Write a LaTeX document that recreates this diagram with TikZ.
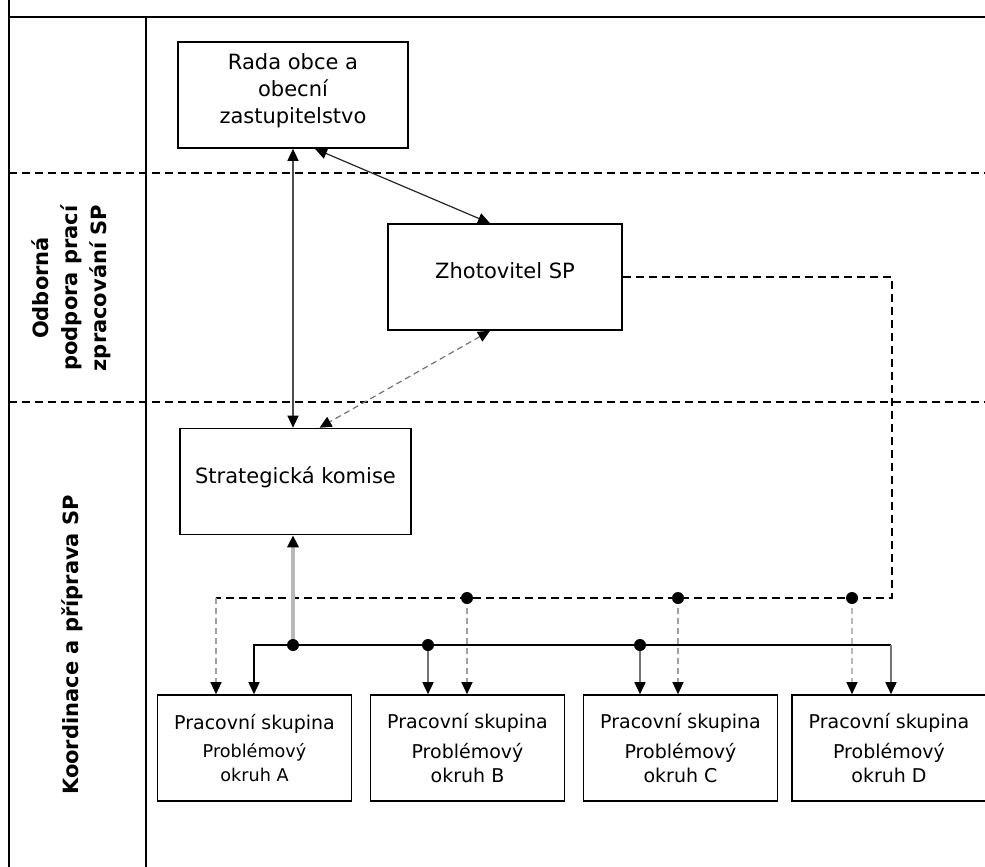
\documentclass[tikz,border=0pt]{standalone}
\usepackage{fontspec}
\setmainfont{DejaVu Sans}
\usetikzlibrary{arrows.meta}

\begin{document}
\begin{tikzpicture}[
    x=0.5pt, y=-0.5pt,
    >={Triangle[length=6pt,width=5.5pt,color=black]},
    every node/.style={font=\fontsize{10.5}{13.5}\selectfont}
  ]

  \tikzset{
    ramec/.style={draw, line width=0.8pt, align=center, minimum height=53pt, text depth=6pt},
    skupina/.style={draw, line width=0.8pt, align=center, minimum width=97pt, minimum height=53pt, inner sep=1pt,
      font=\fontsize{9.5}{12}\selectfont},
    popis/.style={rotate=90, align=center, font=\bfseries\fontsize{10.5}{14.5}\selectfont},
    cara/.style={line width=0.6pt},
    carky/.style={line width=0.6pt, dash pattern=on 4pt off 2.5pt},
    carkyseda/.style={line width=0.6pt, gray!75, dash pattern=on 3pt off 2pt},
    bod/.style={circle, fill=black, inner sep=0pt, minimum size=6pt}
  }

  \useasboundingbox (0,0) rectangle (985,867);

  % ramecek a pasy
  \draw[line width=0.75pt] (9,0) -- (9,867);
  \draw[line width=0.75pt] (9,17) -- (985,17);
  \draw[line width=0.75pt] (146,17) -- (146,867);
  \draw[carky, line width=0.7pt] (9,173) -- (985,173);
  \draw[carky, line width=0.7pt] (9,402) -- (985,402);

  \node[popis] (odborna) at (71,288) {Odborná\\podpora prací\\zpracování SP};
  \node[popis] (koordinace) at (72,645) {Koordinace a příprava SP};

  % hlavni bloky
  \node[ramec, minimum width=115pt] (rada) at (293,95) {Rada obce a\\obecní\\zastupitelstvo};
  \node[ramec, minimum width=117pt] (zhot) at (505,277) {Zhotovitel SP};
  \node[ramec, minimum width=115.5pt] (komise) at (295.5,481.5) {Strategická komise};

  % pracovni skupiny
  \node[skupina] (skA) at (254.5,748) {Pracovní skupina\\[2pt]{\fontsize{8.8}{11}\selectfont Problémový}\\{\fontsize{8.8}{11}\selectfont okruh A}};
  \node[skupina] (skB) at (467.5,748) {Pracovní skupina\\[3pt]Problémový\\okruh B};
  \node[skupina] (skC) at (680.5,748) {Pracovní skupina\\[3pt]Problémový\\okruh C};
  \node[skupina] (skD) at (889,748) {Pracovní skupina\\[3pt]Problémový\\okruh D};

  % spoje nahore
  \draw[cara, black!70, <->] (rada.south) -- (rada.south |- komise.north);
  \draw[cara, black!85, <->] ([xshift=11pt]rada.south) -- ([xshift=-7.5pt]zhot.north);
  \draw[carkyseda, black!55, <->] ([xshift=-7.5pt]zhot.south) -- ([xshift=12pt]komise.north);

  % carkovana sbernice
  \coordinate (dL) at (216,598);
  \coordinate (dR) at (892,598);
  \coordinate (dB) at (467,598);
  \coordinate (dC) at (678,598);
  \coordinate (dD) at (852,598);
  \draw[carky] (zhot.east) -| (dR) -- (dL);
  \draw[carkyseda, ->] (dL) -- (dL |- skA.north);
  \draw[carkyseda, ->] (dB) -- (dB |- skB.north);
  \draw[carkyseda, ->] (dC) -- (dC |- skC.north);
  \draw[carkyseda, gray!55, ->] (dD) -- (dD |- skD.north);

  % plna sbernice
  \coordinate (sL) at (254,645);
  \coordinate (sR) at (891,645);
  \coordinate (sK) at (293,645);
  \coordinate (sB) at (428,645);
  \coordinate (sC) at (640,645);
  \draw[gray!55, line width=1.8pt, ->] (sK) -- (sK |- komise.south);
  \draw[cara, line width=0.8pt, ->] (sR) -- (sL) -- (sL |- skA.north);
  \draw[cara, gray!90!black, line width=0.8pt, ->] (sR) -- (sR |- skD.north);
  \draw[cara, gray!90!black, line width=0.8pt, ->] (sB) -- (sB |- skB.north);
  \draw[cara, gray!90!black, line width=0.8pt, ->] (sC) -- (sC |- skC.north);

  % body
  \node[bod] (bodB) at (dB) {};
  \node[bod] (bodC) at (dC) {};
  \node[bod] (bodD) at (dD) {};
  \node[bod] (bodK) at (sK) {};
  \node[bod] (bodSB) at (sB) {};
  \node[bod] (bodSC) at (sC) {};

\end{tikzpicture}
\end{document}
